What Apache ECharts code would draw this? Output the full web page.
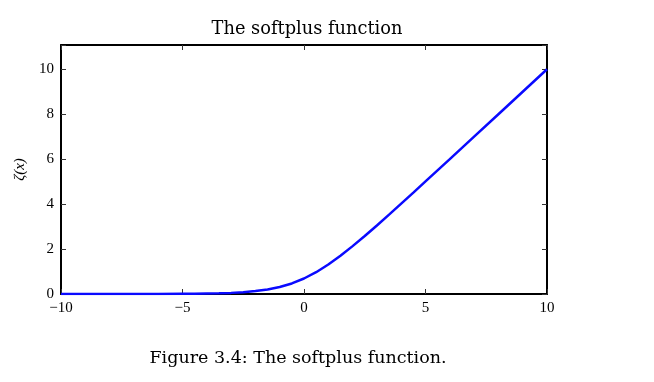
<!DOCTYPE html>
<html><head><meta charset="utf-8">
<script src="https://cdn.jsdelivr.net/npm/echarts@6/dist/echarts.min.js"></script>
<style>html,body{margin:0;padding:0;background:#fff}#c{width:654px;height:382px}</style>
</head><body><div id="c"></div>
<script>
const xValues = [-10,-9,-8,-7,-6,-5,-4.5,-4,-3.5,-3,-2.5,-2,-1.5,-1,-0.5,0,0.5,1,1.5,2,2.5,3,3.5,4,4.5,5,6,7,8,9,10];
const yValues = [0.00,0.00,0.00,0.00,0.00,0.01,0.01,0.02,0.03,0.05,0.08,0.13,0.20,0.31,0.47,0.69,0.97,1.31,1.70,2.13,2.58,3.05,3.53,4.02,4.51,5.01,6.00,7.00,8.00,9.00,10.00];
const xTicks = [-10,-5,0,5,10];
const yTicks = [0,2,4,6,8,10];
const titleText = 'The softplus function';
const captionText = 'Figure 3.4: The softplus function.';
const yName = 'ζ(x)';

const FONT = 'Liberation Serif';
const FONT2 = 'DejaVu Serif';
const chart = echarts.init(document.getElementById('c'), null, {renderer:'canvas'});
const fmtNum = v => (v < 0 ? '\u2212' + Math.abs(v) : String(v));
const common = () => ({
  axisLine:{show:true,onZero:false,lineStyle:{color:'#000',width:2}},
  axisTick:{show:true,inside:true,length:5,lineStyle:{color:'#333',width:1}},
  splitLine:{show:false}
});
chart.setOption({
  animation:false,
  title:[
    {text:titleText,left:302,top:15,textAlign:'center',textStyle:{fontFamily:FONT2,fontSize:17.8,fontWeight:'normal',color:'#000'}},
    {text:captionText,left:293,top:344,textAlign:'center',textStyle:{fontFamily:FONT2,fontSize:17.5,fontWeight:'normal',color:'#000'}}
  ],
  grid:{left:61,right:107,top:45,bottom:88},
  xAxis:[
    Object.assign({type:'value',position:'bottom',min:-10,max:10,interval:5,
      axisLabel:{margin:7,fontFamily:FONT,fontSize:15,color:'#000',formatter:v=>xTicks.includes(v)?fmtNum(v):''}},common()),
    Object.assign({type:'value',position:'top',min:-10,max:10,interval:5,axisLabel:{show:false}},common())
  ],
  yAxis:[
    Object.assign({type:'value',position:'left',min:0,max:11.08,interval:2,
      name:yName,nameLocation:'middle',nameGap:33,nameRotate:90,
      nameTextStyle:{fontFamily:FONT,fontStyle:'italic',fontSize:15,color:'#000'},
      axisLabel:{margin:7,fontFamily:FONT,fontSize:15,color:'#000',formatter:v=>yTicks.includes(v)?fmtNum(v):''}},common()),
    Object.assign({type:'value',position:'right',min:0,max:11.08,interval:2,axisLabel:{show:false}},common())
  ],
  series:[{
    type:'line',data:xValues.map((x,i)=>[x,yValues[i]]),
    showSymbol:false,smooth:false,clip:true,
    lineStyle:{color:'#0a0aff',width:2.5}
  }]
});
</script></body></html>
